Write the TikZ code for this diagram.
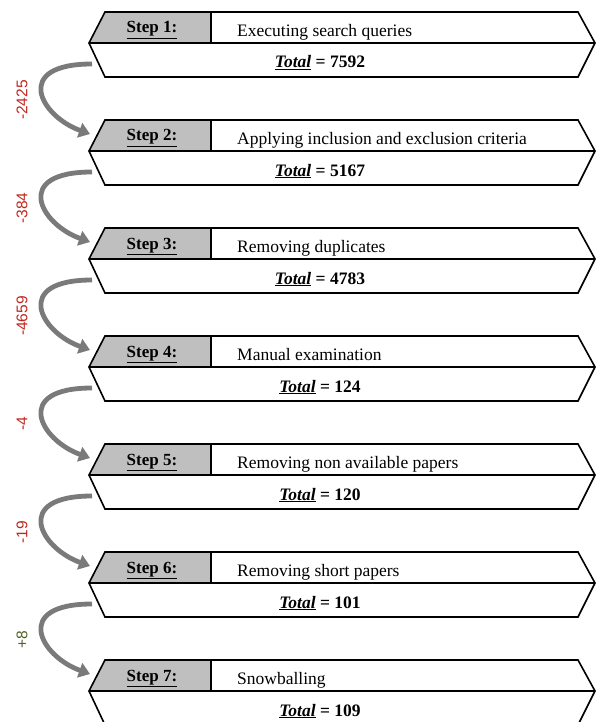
\documentclass[tikz,border=0pt]{standalone}
\usepackage{fontspec}
\setmainfont{Liberation Serif}
\newfontfamily\labelfont{Liberation Sans}
\usetikzlibrary{arrows.meta}
\definecolor{boxgray}{RGB}{191,191,191}
\definecolor{arrowgray}{RGB}{122,122,122}
\definecolor{lossred}{RGB}{192,40,30}
\definecolor{gaingreen}{RGB}{79,98,40}
\begin{document}
\begin{tikzpicture}[x=1pt,y=-1pt,
  boxline/.style={line width=1.6pt, line join=miter},
  steplabel/.style={font=\fontsize{17}{20}\selectfont\bfseries, inner sep=0pt, anchor=base},
  desclabel/.style={font=\fontsize{17.5}{20}\selectfont, inner sep=0pt, anchor=base west},
  totallabel/.style={font=\fontsize{17.5}{20}\selectfont\bfseries, inner sep=0pt, anchor=base},
  flowarrow/.style={draw=arrowgray, line width=4.8pt, -{Triangle[length=11pt,width=15pt]}},
  difflabel/.style={font=\labelfont\fontsize{15.5}{17}\selectfont, rotate=90, inner sep=0pt}
]
\useasboundingbox (0,0) rectangle (599,722);
\foreach \k/\desc/\tot in {1/Executing search queries/7592,
                            2/Applying inclusion and exclusion criteria/5167,
                            3/Removing duplicates/4783,
                            4/Manual examination/124,
                            5/Removing non available papers/120,
                            6/Removing short papers/101,
                            7/Snowballing/109} {
  \pgfmathsetmacro{\Y}{12+108*(\k-1)}
  \fill[boxgray] (105,\Y) -- (211,\Y) -- (211,\Y+31) -- (89,\Y+31) -- cycle;
  \draw[boxline] (105,\Y) -- (578,\Y) -- (595,\Y+31) -- (578,\Y+65) -- (105,\Y+65) -- (89,\Y+31) -- cycle;
  \draw[boxline] (89,\Y+31) -- (595,\Y+31);
  \draw[boxline] (211,\Y) -- (211,\Y+31);
  \node[steplabel] (step\k) at (152,\Y+21) {\underline{Step \k:}};
  \node[desclabel] (desc\k) at (237,\Y+24.5) {\desc};
  \node[totallabel] (total\k) at (320,\Y+56) {\underline{\itshape Total} = \tot};
  \coordinate (out\k) at (92,\Y+52);
  \coordinate (in\k) at (90,\Y+14);
}
\foreach \a/\b/\lbl/\col in {1/2/-2425/lossred,
                              2/3/-384/lossred,
                              3/4/-4659/lossred,
                              4/5/-4/lossred,
                              5/6/-19/lossred,
                              6/7/+8/gaingreen} {
  \draw[flowarrow] (out\a) .. controls +(-80,0) and +(-50,-18) .. (in\b);
  \pgfmathsetmacro{\L}{12+108*(\a-1)+88}
  \node[difflabel, text=\col] (diff\a) at (22,\L) {\lbl};
}
\end{tikzpicture}
\end{document}
